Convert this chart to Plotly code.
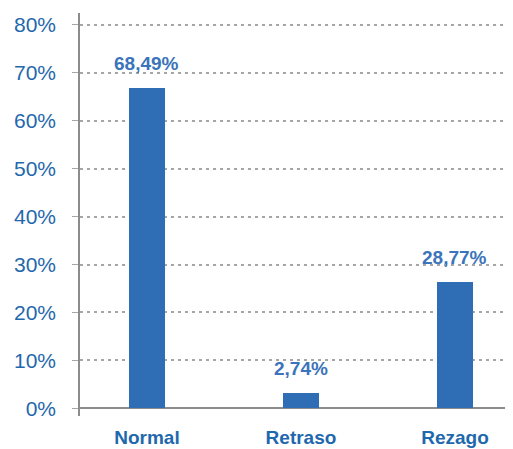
import plotly.graph_objects as go

# categories and values
categories = ["Normal", "Retraso", "Rezago"]
bar_heights = [0.669, 0.032, 0.264]
bar_labels = ["68,49%", "2,74%", "28,77%"]
y_ticks = [0.0, 0.1, 0.2, 0.3, 0.4, 0.5, 0.6, 0.7, 0.8]
y_tick_text = ["0%", "10%", "20%", "30%", "40%", "50%", "60%", "70%", "80%"]

BAR_BLUE = "#2f6db5"
LABEL_BLUE = "#3b74ba"
AXIS_BLUE = "#1f68ad"
GREY = "#8c8c8c"
FONT = "Liberation Sans, Arial, Helvetica, sans-serif"

fig = go.Figure(
    go.Bar(
        x=categories,
        y=bar_heights,
        width=0.234,
        marker=dict(color=BAR_BLUE, line=dict(width=0)),
        hoverinfo="skip",
    )
)

for cat, h, txt in zip(categories, bar_heights, bar_labels):
    fig.add_annotation(
        x=cat,
        y=h,
        text=f"<b>{txt}</b>",
        showarrow=False,
        yanchor="bottom",
        yshift=12,
        font=dict(family=FONT, size=19, color=LABEL_BLUE),
    )

# the page adds an 8px body margin, so the figure is a bit smaller than the window
fig.update_layout(
    width=505,
    height=441,
    margin=dict(l=72, r=0, t=5, b=33),
    plot_bgcolor="white",
    paper_bgcolor="white",
    showlegend=False,
    bargap=0,
)

fig.update_xaxes(
    range=[-0.435, 2.377],
    automargin=False,
    showgrid=False,
    showline=False,
    ticks="",
    tickvals=categories,
    ticktext=[f"<b>{c}</b>" for c in categories],
    tickfont=dict(family=FONT, size=19, color=AXIS_BLUE),
    ticklabelstandoff=8,
)

fig.update_yaxes(
    range=[-0.016, 0.825],
    automargin=False,
    tickvals=y_ticks,
    ticktext=y_tick_text,
    tickfont=dict(family=FONT, size=21, color=AXIS_BLUE),
    showgrid=True,
    gridcolor="#a6a6a6",
    gridwidth=1.5,
    griddash="3px,4px",
    showline=True,
    linecolor=GREY,
    linewidth=1.5,
    ticks="outside",
    ticklen=6,
    tickcolor="#a6a6a6",
    ticklabelstandoff=12,
    zeroline=True,
    zerolinecolor=GREY,
    zerolinewidth=1.5,
)

fig.write_html("out.html")
